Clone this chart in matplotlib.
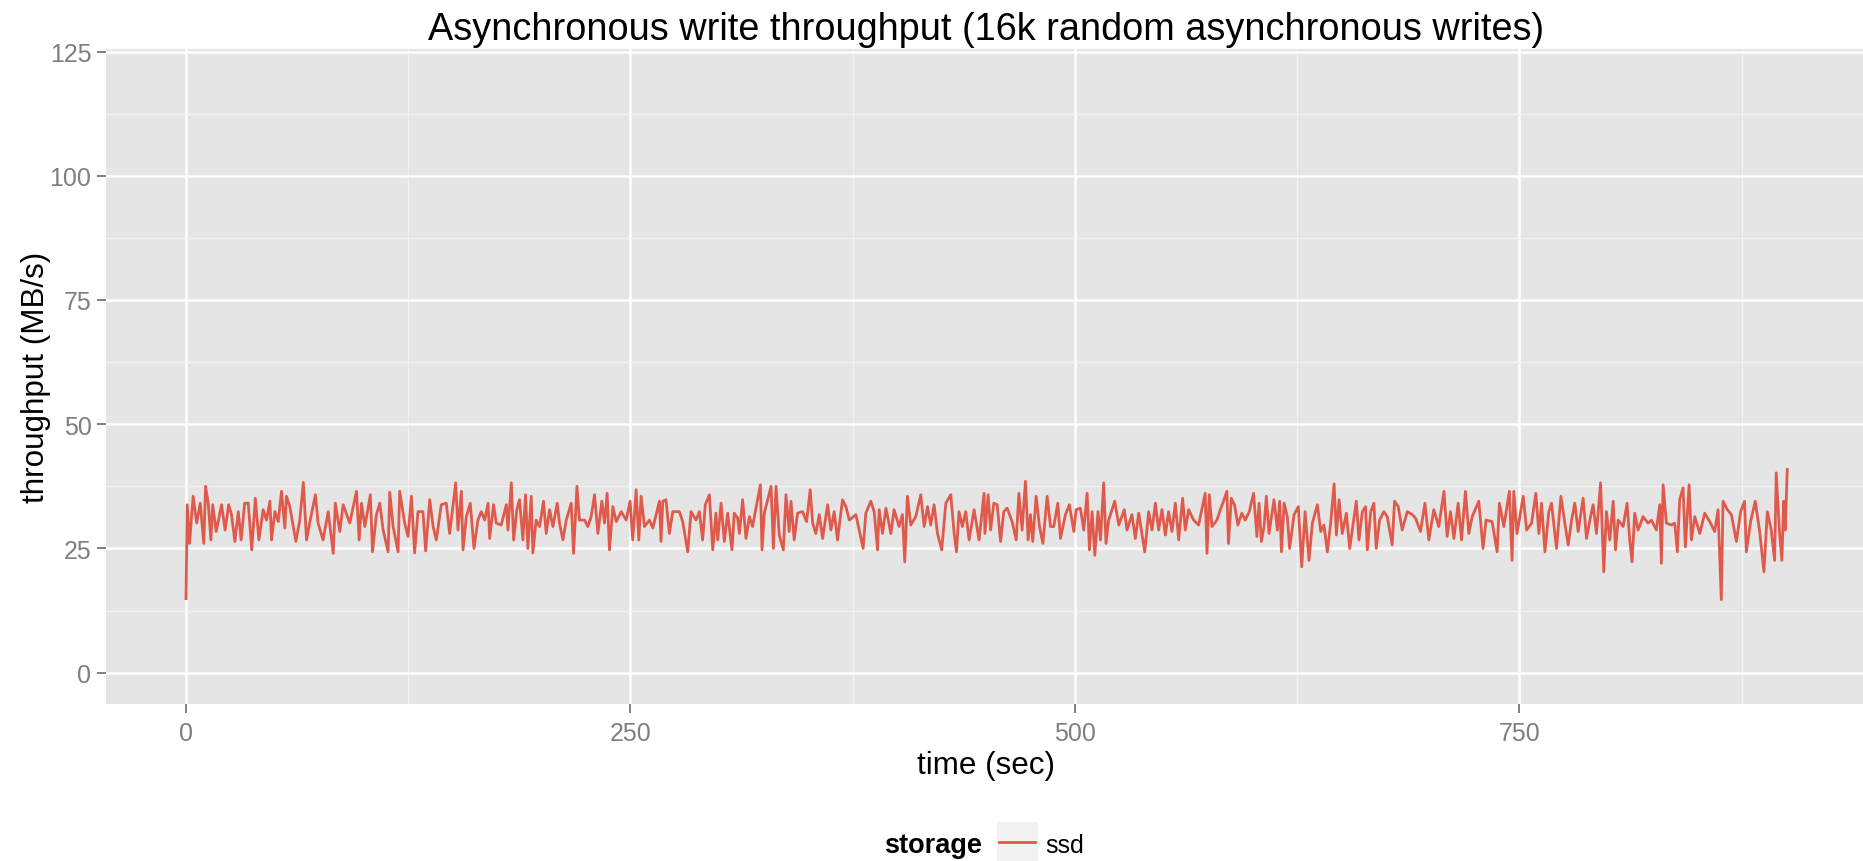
import matplotlib
matplotlib.use('Agg')
import matplotlib.pyplot as plt
from matplotlib.patches import Rectangle
from matplotlib.lines import Line2D

plt.rcParams['font.family'] = ['Liberation Sans', 'DejaVu Sans']

# readings, seconds / MB/s
time_sec = [
    0, 0.7, 2, 4, 6, 8, 10, 11, 12.5, 14,
    15, 17, 20, 22, 24, 25.6, 27.5, 29.4, 31, 33,
    35, 37, 39, 41, 43.4, 45.3, 47.2, 48.1, 50, 51.9,
    53.7, 55.6, 56.5, 58.4, 61.8, 64, 66, 67.8, 69.7, 72.8,
    74.3, 77.1, 80, 82.8, 84, 86.5, 88.4, 92.1, 95.9, 97.4,
    98.7, 100.6, 103.7, 104.9, 107.1, 109, 110.9, 113.7, 114.6, 116.5,
    119.3, 120.2, 123, 124.9, 126.8, 128.6, 130.5, 133.3, 134.8, 137.1,
    139, 140.8, 143.6,
    146.4, 148.3, 151.7, 153, 154.9, 155.8, 157.7, 159.9, 162, 164.2,
    166.1, 168, 169.9, 170.8, 173, 174.5, 177.3, 180.2, 181.1, 183,
    184.3, 186.1, 187.6, 189.5, 191, 192.3, 194.2, 195.1, 197, 198.9,
    201.1, 202.6, 204.5, 206.4, 208.8, 210.1, 212, 213.9, 216.7, 218,
    219.9, 221.3, 224.2, 226, 227.9, 229.8, 231.7, 233.9, 235.4, 236.9,
    238.2, 240.1, 242, 244.8, 247.6, 249.8, 251.3, 253.2, 254.7, 256,
    257.9, 260.7, 262.6, 266.3, 267.2, 268.2, 270, 271.9, 273.8, 277.5,
    279.4, 282.2, 284.1, 286.9, 288.8, 290.6, 292.1, 294.4, 296.3,
    298.1, 299.1, 301, 302.8, 304.7, 307.1, 308.4, 310.3, 311.3, 313.1,
    315, 316.9, 318.7, 320.6, 323.1, 324, 325.3, 329.1, 330.4, 331.9,
    333.7, 336, 337.5, 339.3, 340.3, 342.1, 344, 346.8, 349.1, 351.1,
    352.5, 354.3, 356.2, 358.1, 360.9, 362.8, 364.6, 366.5, 369.3, 371.2,
    373.1, 376.8, 380.9, 382.4, 385.2, 387.1, 389, 389.9, 391.8, 393.7,
    396.5, 398.3, 401.1, 403, 404.3, 405.8, 407.7, 410.5, 413.3, 415.2,
    417.1, 418.9, 420.8, 422.7, 425.1, 427.4, 430.2, 432.1, 433.4, 434.8,
    436.7, 438.6, 440.5, 443.3, 446.1, 448.9,
    449.4, 451.2, 452.6, 454.4, 456.3, 458.2, 460, 461.9, 464.7, 467,
    468.5, 470.3, 472.2, 473.7, 475, 476.3, 478.2, 480.1, 482, 484.4,
    486.3, 488.1, 490.4, 491.9, 494.7, 496.9, 499.4, 500.7, 503.1, 505,
    506.9, 508.2, 509.7, 511.2, 513, 514.4, 516.2, 517.5, 519, 522.4,
    524.7, 527.8, 529.3, 532.1, 534, 535.9, 539.3, 541.5, 543.4, 545.3,
    547.1, 549, 550.9, 552.7, 554.6, 556.5, 558.4, 560.6, 562.1, 564,
    566.8, 569.6, 573.3, 574.3, 575.6, 577.1, 579.9, 581.8, 583.6, 585.5,
    586.4, 588, 589.8, 591.7, 593.9, 595.8, 598.1, 600.5, 602.4,
    603.6, 604.9, 606.4, 607.7, 609.2, 612, 613.9, 615.2, 616.2, 617.7,
    619.5, 620.8, 623.3, 625.7, 627.6, 629.5, 631.7, 633.6, 636.4, 638.3,
    640.1, 642, 643.9, 645.8, 647.1, 648.6, 650.4, 652.7, 654.6, 657,
    658.3, 659.8, 661.7, 663.5, 664.5, 666.4, 668.2, 669.5, 671.4, 673.8,
    675.7, 678.5, 679.8, 681.9, 684.1, 687, 689.8, 691.6, 694.4, 696.9,
    699.1, 701.9, 704.7, 707.6, 709.4, 711.3, 713.2, 715.6, 717.5, 719.7,
    721.6, 723.5, 727.2, 729.6, 731.3, 734.7, 737.5, 738.8, 741.3, 744.4,
    745.9, 746.9, 748.7,
    752.2, 754.1, 756.9, 759.3, 761, 762.5, 764.4, 766.6, 768.1, 770.9,
    773.4, 775.6, 777.5, 779.4, 781.2, 783.1, 785.9, 787.8, 789.7, 791.5,
    793.4, 795.7, 797.5, 799, 800.9, 802.8, 804.1, 805.6, 808.4, 810.6,
    812.1, 813.4, 814.9, 816.8, 819.6, 822.4, 824.3, 827.1, 829, 829.9,
    830.9, 832.7, 835.5, 837.4, 838.9, 840.2, 842.1, 843.4, 845.5, 846.8,
    848.7, 851.5, 854.3, 857.1, 859.9, 861.8, 863.6, 864.6, 867, 869.3,
    872.1, 874.5, 876.7, 877.7, 880.1, 882.7, 885.2, 887.6, 889.5, 891.7,
    893.6, 894.5, 896.4, 897.7, 898.7, 899.6, 900.7,
]
mbps = [
    14.9, 33.8, 26.0, 35.5, 30.1, 34.1, 26.0, 37.5, 34.1, 26.7,
    33.8, 28.4, 33.8, 28.7, 33.8, 31.8, 26.4, 32.4, 26.7, 34.1,
    34.1, 24.7, 35.1, 26.7, 32.8, 30.7, 34.5, 26.7, 32.4, 30.4,
    36.5, 29.1, 35.5, 33.4, 26.4, 30.7, 38.3, 26.7, 30.4, 35.8,
    30.1, 26.7, 32.4, 24.0, 34.1, 28.4, 33.8, 30.1, 36.5, 26.7,
    34.1, 29.4, 35.8, 24.3, 31.8, 34.1, 28.7, 24.3, 36.3, 29.4,
    24.3, 36.5, 30.1, 27.4, 35.5, 24.1, 32.4, 32.4, 24.5, 34.8,
    29.4, 26.7, 33.8,
    34.1, 28.0, 38.2, 28.7, 36.5, 24.7, 31.4, 34.1, 25.0, 30.7,
    32.4, 30.7, 34.1, 27.0, 33.8, 30.1, 29.7, 33.8, 28.7, 38.2,
    26.7, 32.8, 34.8, 26.7, 35.8, 25.0, 35.5, 24.1, 30.7, 29.4,
    34.5, 28.0, 32.8, 29.4, 34.1, 30.1, 26.7, 30.7, 34.1, 24.0,
    37.5, 30.7, 30.7, 29.4, 31.4, 35.8, 28.0, 34.5, 30.1, 36.1,
    24.7, 33.4, 30.4, 32.4, 30.7, 34.5, 26.7, 36.8, 26.7, 35.5,
    29.4, 30.7, 29.1, 34.5, 26.4, 34.5, 34.8, 28.0, 32.4, 32.4,
    30.4, 24.3, 32.4, 30.7, 32.4, 26.7, 33.8, 35.8, 24.7,
    32.1, 26.7, 34.1, 26.4, 32.1, 24.7, 32.1, 31.1, 28.0, 34.8,
    27.0, 31.4, 29.4, 33.1, 37.8, 24.7, 32.1, 37.5, 25.0, 37.5,
    27.7, 24.7, 35.8, 28.4, 34.5, 26.7, 32.1, 32.4, 30.4, 36.8,
    30.1, 28.0, 31.8, 27.0, 33.8, 28.7, 32.4, 26.7, 34.8, 33.4,
    30.7, 31.8, 25.0, 32.1, 34.5, 32.4, 24.7, 32.8, 28.0, 33.1,
    28.0, 32.8, 29.4, 31.8, 22.3, 35.5, 29.7, 31.4, 35.8, 29.4,
    33.4, 29.7, 33.8, 28.0, 24.7, 34.1, 35.8, 28.0, 24.3, 32.4,
    29.4, 32.4, 26.7, 32.8, 26.7, 36.1,
    28.0, 35.8, 28.7, 34.1, 33.8, 26.4, 32.4, 33.1, 30.4, 26.7,
    36.1, 28.7, 38.5, 26.7, 31.8, 26.4, 35.5, 29.4, 26.0, 35.5,
    29.4, 29.4, 34.1, 27.0, 31.8, 33.8, 28.4, 32.8, 33.1, 28.7,
    36.1, 24.7, 32.4, 23.6, 32.4, 26.7, 38.2, 26.0, 30.7, 34.5,
    29.7, 32.8, 28.7, 31.8, 27.0, 32.1, 24.3, 32.4, 28.7, 34.1,
    28.7, 32.8, 27.7, 32.4, 28.4, 34.1, 26.7, 35.1, 28.7, 32.8,
    30.7, 29.7, 36.1, 24.0, 35.8, 29.4, 30.7, 32.8, 34.5, 36.5,
    26.0, 35.1, 33.8, 29.7, 32.1, 30.7, 32.4, 36.1, 27.4,
    34.1, 26.4, 29.4, 35.5, 28.0, 34.8, 28.7, 34.5, 24.3, 34.1,
    31.4, 25.0, 31.8, 33.4, 21.3, 32.4, 22.6, 30.1, 33.8, 28.4,
    29.7, 24.3, 30.1, 38.0, 27.7, 34.8, 28.0, 32.1, 25.0, 31.1,
    34.5, 26.7, 32.4, 33.4, 24.7, 32.4, 34.1, 25.0, 30.7, 32.4,
    31.4, 25.7, 34.5, 33.4, 28.7, 32.4, 31.8, 31.1, 28.4, 34.1,
    26.7, 32.8, 29.4, 36.5, 27.4, 32.4, 27.0, 34.1, 26.7, 36.5,
    28.0, 31.4, 34.5, 25.0, 30.7, 30.4, 24.3, 34.1, 29.4, 36.5,
    22.6, 36.5, 28.0,
    35.5, 28.7, 30.1, 36.1, 28.0, 34.1, 24.3, 32.4, 34.1, 25.0,
    35.5, 30.1, 25.7, 30.7, 34.1, 28.4, 35.1, 27.0, 30.7, 33.8,
    28.0, 38.2, 20.3, 32.4, 26.7, 34.5, 24.7, 30.7, 29.4, 34.1,
    26.7, 22.3, 32.1, 28.7, 31.4, 30.1, 30.7, 28.7, 33.8, 22.0,
    37.8, 30.1, 29.7, 30.1, 24.3, 34.8, 37.2, 25.3, 37.8, 26.7,
    31.4, 28.0, 32.1, 30.4, 28.4, 32.8, 14.7, 34.5, 32.8, 31.8,
    26.4, 32.4, 34.5, 24.3, 30.4, 34.5, 28.4, 20.3, 32.4, 28.7,
    22.6, 40.2, 28.0, 22.6, 34.5, 28.7, 40.9,
]

x_ticks = [0, 250, 500, 750]
x_minor = [125, 375, 625, 875]
y_ticks = [0, 25, 50, 75, 100, 125]
y_minor = [12.5, 37.5, 62.5, 87.5, 112.5]

series_name = 'ssd'
legend_title = 'storage'
line_color = '#E05A4B'

fig = plt.figure(figsize=(18.63, 8.62), dpi=100)
# panel runs a little past the right edge, like the cropped original
ax = fig.add_axes([0.0569, 0.1825, 0.9447, 0.760])
ax.set_facecolor('#E5E5E5')
for s in ax.spines.values():
    s.set_visible(False)

ax.set_xlim(-45, 945)
ax.set_ylim(-6.25, 125.6)
ax.set_xticks(x_ticks)
ax.set_yticks(y_ticks)
ax.set_xticks(x_minor, minor=True)
ax.set_yticks(y_minor, minor=True)
ax.grid(which='major', color='white', lw=1.8)
ax.grid(which='minor', color='#F2F2F2', lw=0.9)
ax.set_axisbelow(True)

ax.tick_params(which='minor', length=0)
ax.tick_params(which='major', length=6.5, width=1.4, color='#7F7F7F',
               labelcolor='#7F7F7F', labelsize=18)
ax.tick_params(axis='x', pad=6)
ax.tick_params(axis='y', pad=4)

ax.plot(time_sec, mbps, color=line_color, lw=2.0)

ax.set_title('Asynchronous write throughput (16k random asynchronous writes)',
             fontsize=27.3, pad=7)
ax.set_xlabel('time (sec)', fontsize=22.6)
ax.xaxis.label.set_va('center')
ax.xaxis.set_label_coords(0.5, -0.093)
ax.set_ylabel('throughput (MB/s)', fontsize=22.6)
ax.yaxis.label.set_va('center')
ax.yaxis.set_label_coords(-0.0398, 0.5)

# legend below the panel, ggplot style
fig.text(0.5271, 0.0104, legend_title, ha='right', va='baseline',
         fontsize=19.5, fontweight='bold')
fig.patches.append(Rectangle((0.5352, 0.0), 0.022, 0.0452, transform=fig.transFigure,
                             facecolor='#F2F2F2', edgecolor='none'))
fig.lines.append(Line2D([0.5362, 0.5556], [0.022, 0.022], transform=fig.transFigure,
                        color=line_color, lw=2.0))
fig.text(0.5609, 0.0104, series_name, ha='left', va='baseline', fontsize=18)

fig.savefig('out.png', dpi=100)
